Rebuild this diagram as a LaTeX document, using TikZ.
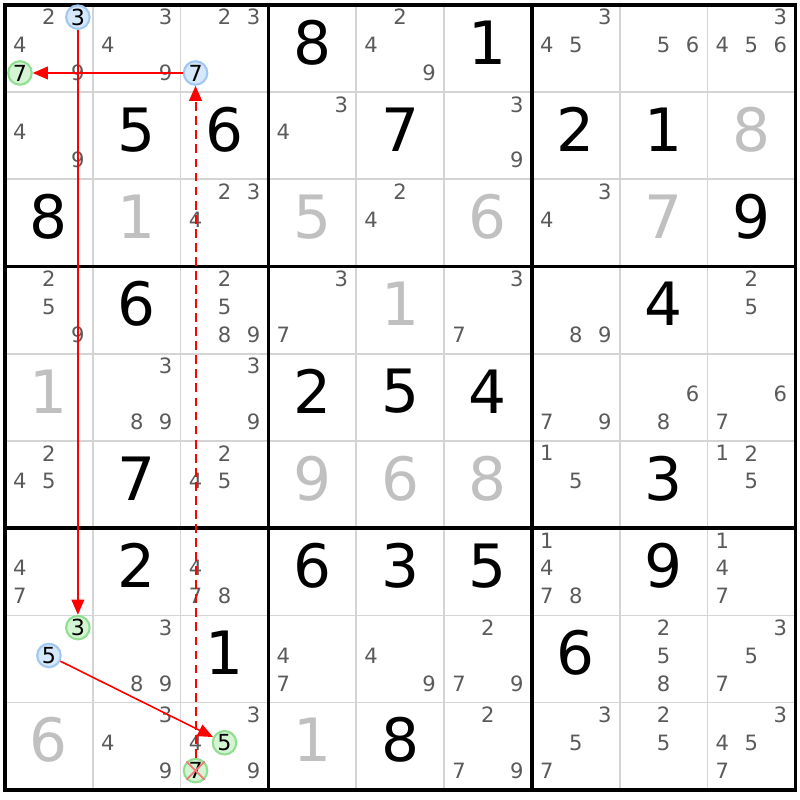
\documentclass[tikz,border=0pt]{standalone}
\usepackage{fontspec}
\setmainfont{DejaVu Sans}
\usetikzlibrary{arrows.meta}
\definecolor{luoi}{HTML}{D4D4D4}
\definecolor{ungvien}{HTML}{5A5A5A}
\definecolor{dagiai}{HTML}{C0C0C0}
\definecolor{xanhduong}{HTML}{D6E8FC}
\definecolor{vienduong}{HTML}{A0C8F0}
\definecolor{xanhla}{HTML}{D4F5D4}
\definecolor{vienla}{HTML}{90DF90}
\definecolor{gachdo}{HTML}{F07878}

\begin{document}
\begin{tikzpicture}[x=0.878cm,y=-0.872cm,
	so/.style={font=\fontsize{17}{17}\selectfont},
	nho/.style={ungvien,font=\fontsize{6}{6}\selectfont,inner sep=0pt},
	chon/.style={circle,inner sep=0pt,minimum size=0.235cm,line width=0.6pt,text=black,font=\fontsize{6.3}{6.3}\selectfont},
	chonduong/.style={chon,draw=vienduong,fill=xanhduong},
	chonla/.style={chon,draw=vienla,fill=xanhla},
	mui/.style={red,line width=0.45pt,-{Triangle[length=4.3pt,width=3.6pt]}}]
			\useasboundingbox (-0.057,-0.057) rectangle (9.054,9.117);
			\foreach \i in {1,2,4,5,7,8} {
				\draw [luoi,line width=0.5pt] (\i,0) -- (\i,9);
				\draw [luoi,line width=0.5pt] (0,\i) -- (9,\i);
			}
			\foreach \i in {3,6} {
				\draw [line width=1pt] (\i,0) -- (\i,9);
				\draw [line width=1pt] (0,\i) -- (9,\i);
			}
			\draw [line width=1pt] (0,0) rectangle (9,9);
			% givens
			\foreach \r/\c/\d in {0/3/8,0/5/1,1/1/5,1/2/6,1/4/7,1/6/2,1/7/1,2/0/8,2/8/9,3/1/6,3/7/4,
				4/3/2,4/4/5,4/5/4,5/1/7,5/7/3,6/1/2,6/3/6,6/4/3,6/5/5,6/7/9,7/2/1,7/6/6,8/4/8}
				\node[so] (g\r\c) at (\c+0.5,\r+0.43) {\d};
			% solved
			\foreach \r/\c/\d in {1/8/8,2/1/1,2/3/5,2/5/6,2/7/7,3/4/1,4/0/1,5/3/9,5/4/6,5/5/8,8/0/6,8/3/1}
				\node[so,dagiai] (s\r\c) at (\c+0.5,\r+0.43) {\d};
			% candidates
			\foreach \r/\c/\ds in {0/0/{2,4,9},0/1/{3,4,9},0/2/{2,3},0/4/{2,4,9},0/6/{3,4,5},0/7/{5,6},0/8/{3,4,5,6},
				1/0/{4,9},1/3/{3,4},1/5/{3,9},2/2/{2,3,4},2/4/{2,4},2/6/{3,4},
				3/0/{2,5,9},3/2/{2,5,8,9},3/3/{3,7},3/5/{3,7},3/6/{8,9},3/8/{2,5},
				4/1/{3,8,9},4/2/{3,9},4/6/{7,9},4/7/{6,8},4/8/{6,7},
				5/0/{2,4,5},5/2/{2,4,5},5/6/{1,5},5/8/{1,2,5},
				6/0/{4,7},6/2/{4,7,8},6/6/{1,4,7,8},6/8/{1,4,7},
				7/1/{3,8,9},7/3/{4,7},7/4/{4,9},7/5/{2,7,9},7/7/{2,5,8},7/8/{3,5,7},
				8/1/{3,4,9},8/2/{3,4,9},8/5/{2,7,9},8/6/{3,5,7},8/7/{2,5},8/8/{3,4,5,7}}
				\foreach \d in \ds
					\node[nho] at ({\c+0.17+0.33*mod(\d-1,3)},{\r+0.14+0.32*floor((\d-1)/3)}) {\d};
			\node[chonduong] (r1c1n3) at (0.83,0.14) {3};
			\node[chonla] (r1c1n7) at (0.17,0.78) {7};
			\node[chonduong] (r1c3n7) at (2.17,0.78) {7};
			\node[chonla] (r8c1n3) at (0.83,7.14) {3};
			\node[chonduong] (r8c1n5) at (0.5,7.46) {5};
			\node[chonla] (r9c3n5) at (2.5,8.46) {5};
			\node[chonla] (r9c3n7) at (2.17,8.78) {7};
			\draw [gachdo,line width=0.5pt] (r9c3n7.north west) -- (r9c3n7.south east);
			\draw [gachdo,line width=0.5pt] (r9c3n7.north east) -- (r9c3n7.south west);
			\draw [mui] (r1c1n3) -- (r8c1n3);
			\draw [mui] (r1c3n7) -- (r1c1n7);
			\draw [mui,line width=0.55pt,dash pattern=on 2.5pt off 1.5pt] (r9c3n7) -- (r1c3n7);
			\draw [mui] (r8c1n5) -- (r9c3n5);
		\end{tikzpicture}
\end{document}
